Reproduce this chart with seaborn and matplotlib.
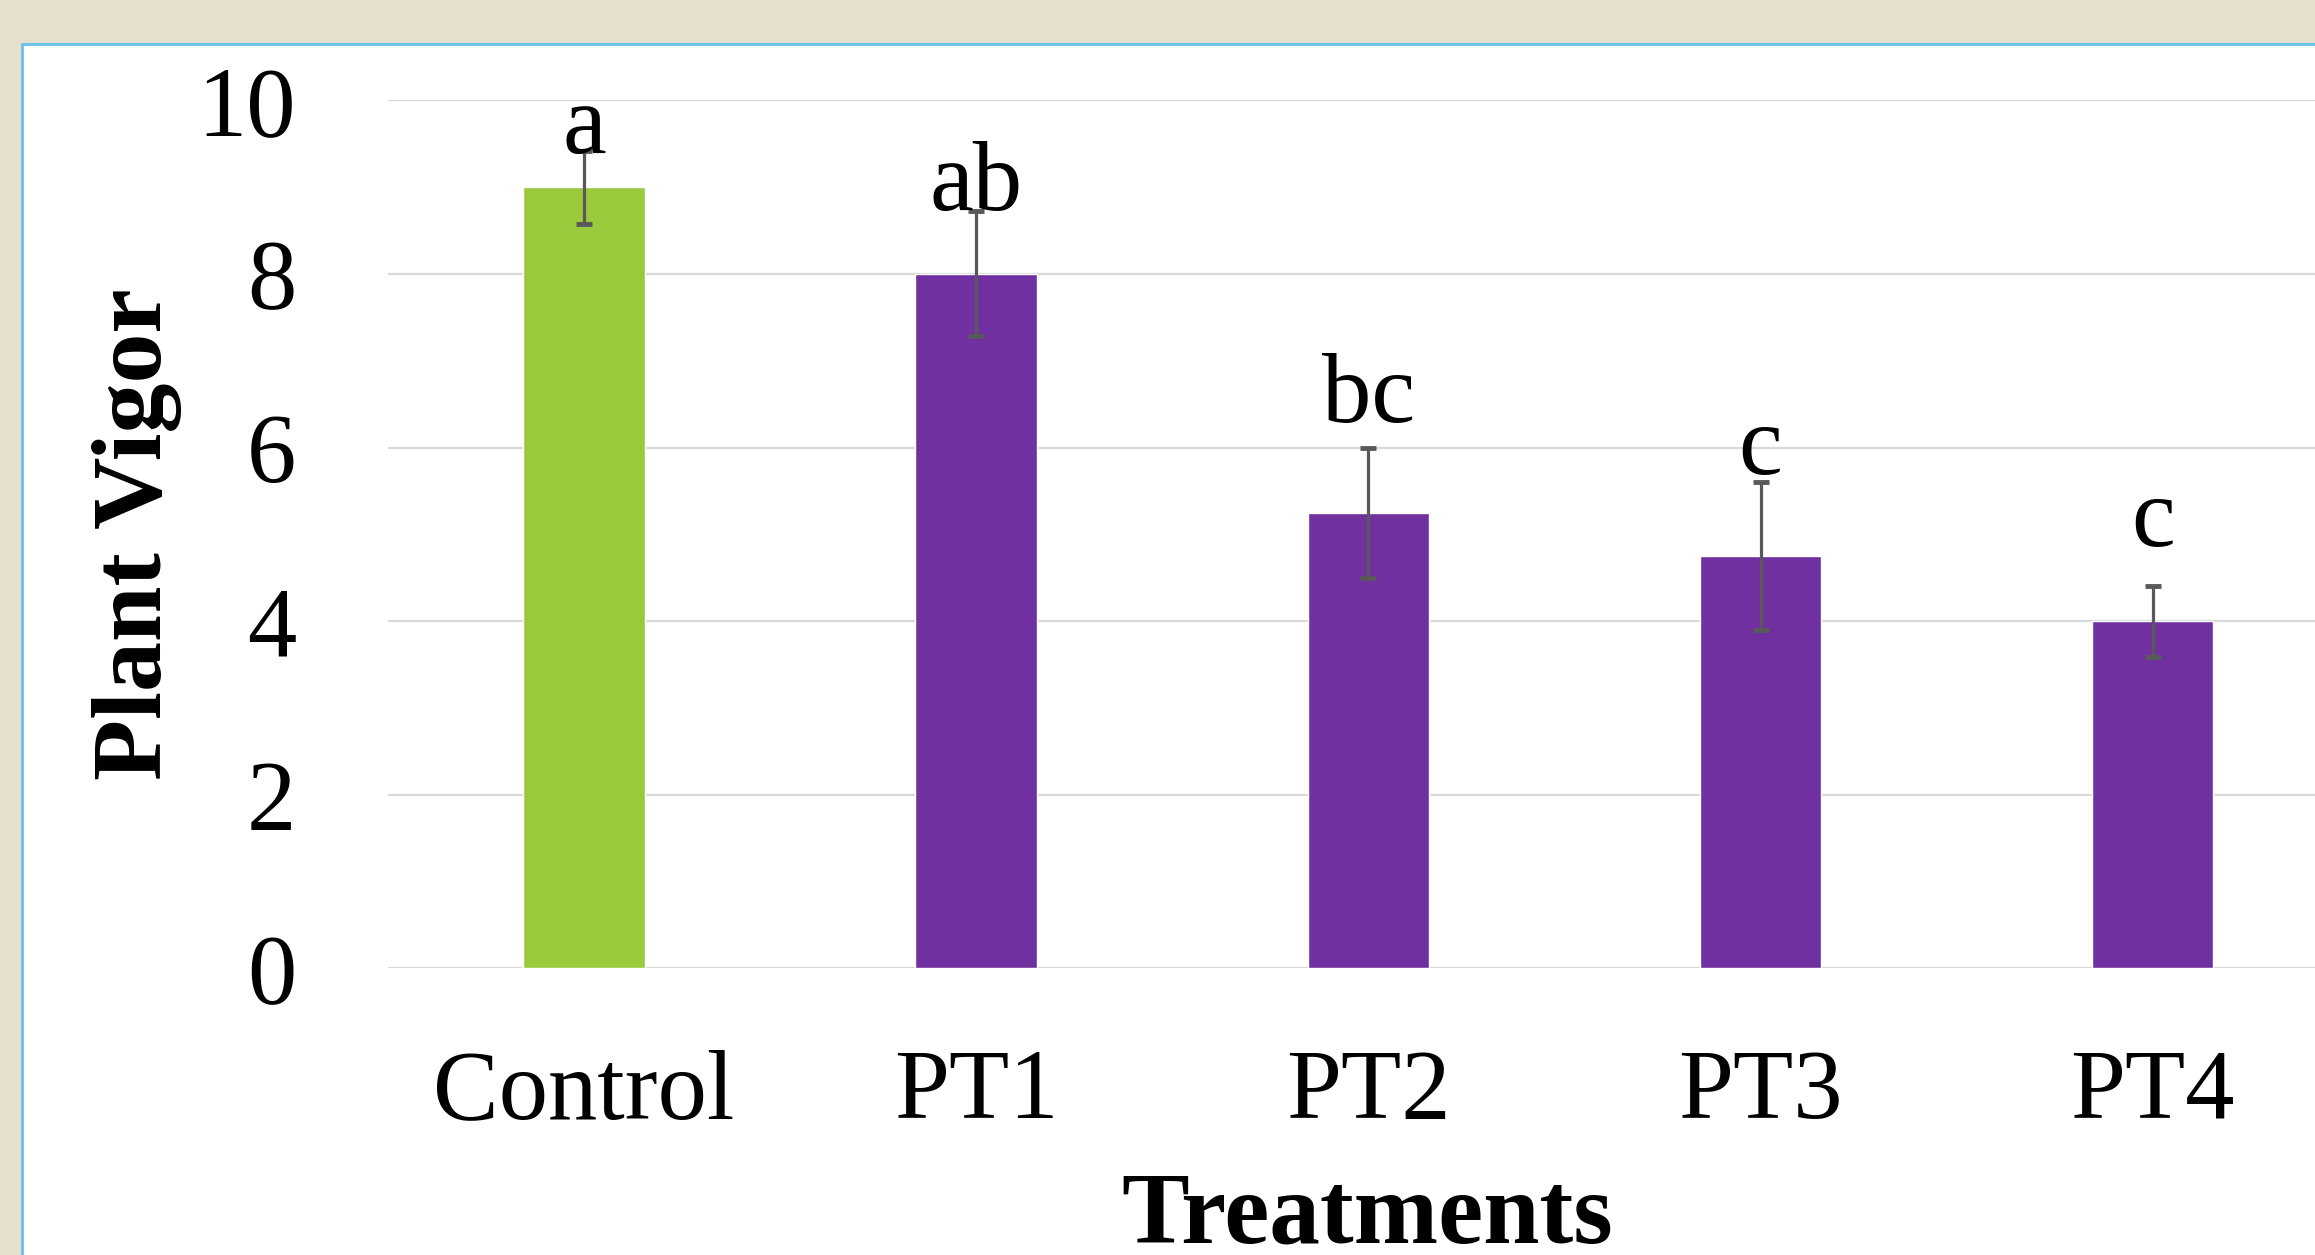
import matplotlib
matplotlib.use("Agg")
import matplotlib.pyplot as plt
import seaborn as sns
import pandas as pd
from matplotlib.patches import Rectangle

treatments = ["Control", "PT1", "PT2", "PT3", "PT4"]
vigor = [9.0, 8.0, 5.25, 4.75, 4.0]
vigor_err = [0.42, 0.72, 0.75, 0.85, 0.41]
letters = ["a", "ab", "bc", "c", "c"]
letter_y = [9.39, 8.74, 6.29, 5.70, 4.87]
bar_colors = ["#9ACA3C", "#7030A0", "#7030A0", "#7030A0", "#7030A0"]

df = pd.DataFrame({"treatment": treatments, "vigor": vigor})

sns.set_style("white")
plt.rcParams["font.family"] = ["Liberation Serif", "DejaVu Serif"]
plt.rcParams["text.color"] = "black"
plt.rcParams["axes.labelcolor"] = "black"
plt.rcParams["xtick.color"] = "black"
plt.rcParams["ytick.color"] = "black"

fig = plt.figure(figsize=(23.15, 12.55), dpi=100, facecolor="#E4E0CD")
# white slide panel with light blue border, kept behind the axes
fig.patches.append(Rectangle((22 / 2315, -0.02), 1.1, 1 - 44 / 1255 + 0.02,
                             transform=fig.transFigure, facecolor="white",
                             edgecolor="#63C3EA", linewidth=2, zorder=-1))

ax = fig.add_axes([388 / 2315, 1 - 968.3 / 1255, 1 - 388 / 2315, (968.3 - 100.4) / 1255])
ax.set_facecolor("none")

sns.barplot(data=df, x="treatment", y="vigor", hue="treatment", palette=bar_colors,
            width=0.31, saturation=1, legend=False, ax=ax, zorder=2)
ax.errorbar(range(len(treatments)), vigor, yerr=vigor_err, fmt="none",
            ecolor="#595959", elinewidth=2.3, capsize=6, capthick=3.5, zorder=3)

for i, (lab, y) in enumerate(zip(letters, letter_y)):
    ax.text(i, y, lab, ha="center", va="baseline", fontsize=71, color="black", zorder=4)

ax.set_xlim(-0.5, 4.414)
ax.set_ylim(0, 10)
ax.set_yticks([0, 2, 4, 6, 8, 10])
ax.yaxis.grid(True, color="#D9D9D9", linewidth=1.6, zorder=0)
ax.set_axisbelow(True)
for s in ax.spines.values():
    s.set_visible(False)
ax.tick_params(axis="y", length=0, pad=66, labelsize=71, labelcolor="black")
ax.tick_params(axis="x", length=0, pad=58, labelsize=71, labelcolor="black")

ax.set_xlabel("Treatments", fontsize=73, fontweight="bold", va="baseline")
ax.xaxis.set_label_coords(0.508, -0.3154)
ax.set_ylabel("Plant Vigor", fontsize=72, fontweight="bold", va="center")
ax.yaxis.set_label_coords(-0.130, 0.5)

fig.savefig("out.png", dpi=100, facecolor=fig.get_facecolor())
